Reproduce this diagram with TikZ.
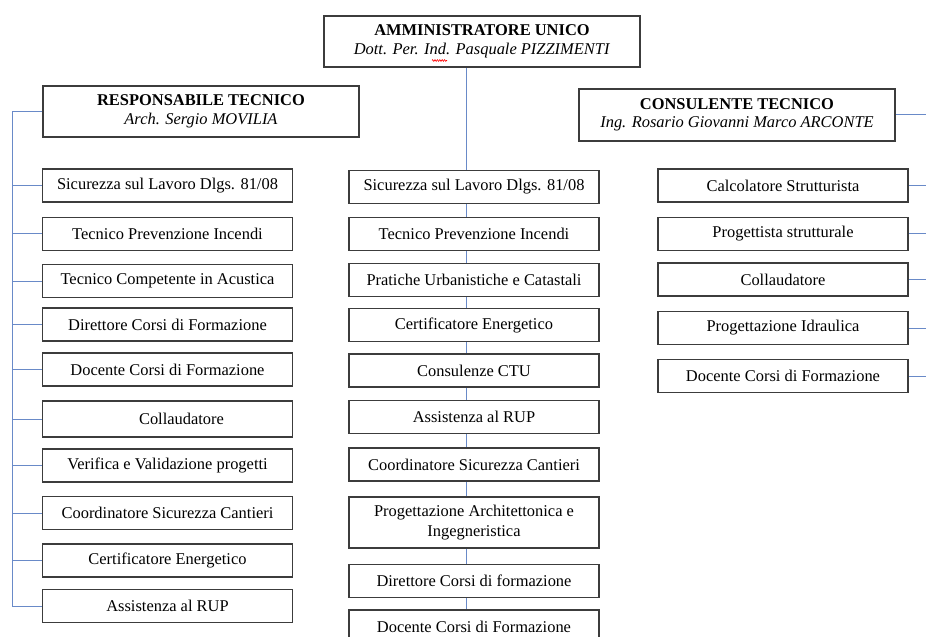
\documentclass[tikz,border=0pt]{standalone}
\usepackage{fontspec}
\setmainfont{Liberation Serif}
\usetikzlibrary{backgrounds,decorations.pathmorphing}
\definecolor{boxgray}{RGB}{60,60,60}
\definecolor{linkblue}{RGB}{105,138,200}
\begin{document}
\begin{tikzpicture}[x=1bp,y=-1bp,
  box/.style={draw=boxgray, line width=1.1bp, fill=white, minimum width=250bp, minimum height=33bp, inner sep=0pt, align=center, font=\fontsize{16.5}{20}\selectfont},
  head/.style={box, minimum width=316bp, minimum height=51bp, font=\fontsize{16.5}{18.5}\selectfont},
  link/.style={draw=linkblue, line width=1bp},
  squig/.style={draw=red, line width=0.6bp, decorate, decoration={zigzag, amplitude=0.9bp, segment length=2.4bp}}]
\useasboundingbox (0,0) rectangle (926,637);
\coordinate (lx) at (12,0);
\coordinate (mx) at (466,0);
\coordinate (rx) at (926,0);
% heads
\node[head] (top) at (482,41.5) {\textbf{AMMINISTRATORE UNICO}\\\textit{Dott. Per. Ind. Pasquale PIZZIMENTI}};
\node[head] (resp) at (201,111.5) {\textbf{RESPONSABILE TECNICO}\\\textit{Arch. Sergio MOVILIA}};
\node[head, minimum height=52bp] (cons) at (737,115) {\textbf{CONSULENTE TECNICO}\\\textit{Ing. Rosario Giovanni Marco ARCONTE}};
\coordinate (sqa) at ([xshift=-50bp,yshift=-19bp]top.center);
\coordinate (sqb) at ([xshift=-35bp,yshift=-19bp]top.center);
\draw[squig] (sqa) -- (sqb);
% left column
\node[box] (l1) at (167.5,185.5) {Sicurezza sul Lavoro Dlgs. 81/08};
\node[box] (l2) at (167.5,234) {Tecnico Prevenzione Incendi};
\node[box] (l3) at (167.5,281) {Tecnico Competente in Acustica};
\node[box] (l4) at (167.5,324.5) {Direttore Corsi di Formazione};
\node[box] (l5) at (167.5,369.5) {Docente Corsi di Formazione};
\node[box, minimum height=36bp] (l6) at (167.5,419) {\hspace*{28bp}Collaudatore};
\node[box] (l7) at (167.5,465.5) {Verifica e Validazione progetti};
\node[box] (l8) at (167.5,513) {Coordinatore Sicurezza Cantieri};
\node[box] (l9) at (167.5,560.5) {Certificatore Energetico};
\node[box] (l10) at (167.5,606) {Assistenza al RUP};
% middle column
\node[box] (m1) at (474,187) {Sicurezza sul Lavoro Dlgs. 81/08};
\node[box] (m2) at (474,234) {Tecnico Prevenzione Incendi};
\node[box] (m3) at (474,280) {Pratiche Urbanistiche e Catastali};
\node[box] (m4) at (474,325) {Certificatore Energetico};
\node[box] (m5) at (474,370.5) {Consulenze CTU};
\node[box] (m6) at (474,417) {Assistenza al RUP};
\node[box] (m7) at (474,464.5) {Coordinatore Sicurezza Cantieri};
\node[box, minimum height=51bp] (m8) at (474,522.5) {Progettazione Architettonica e\\Ingegneristica};
\node[box] (m9) at (474,581) {Direttore Corsi di formazione};
\node[box] (m10) at (474,626.5) {Docente Corsi di Formazione};
% right column
\node[box] (r1) at (783,185.5) {Calcolatore Strutturista};
\node[box] (r2) at (783,234) {Progettista strutturale};
\node[box] (r3) at (783,279.5) {Collaudatore};
\node[box] (r4) at (783,328) {Progettazione Idraulica};
\node[box] (r5) at (783,376) {Docente Corsi di Formazione};
% connectors
\begin{pgfonlayer}{background}
\draw[link] (top.south -| mx) -- (m10.north -| mx);
\draw[link] (resp.west) -- (resp.west -| lx) -- (l10.west -| lx) -- (l10.west);
\foreach \n in {l1,l2,l3,l4,l5,l6,l7,l8,l9} {\draw[link] (\n.west) -- (\n.west -| lx);}
\foreach \n in {cons,r1,r2,r3,r4,r5} {\draw[link] (\n.east) -- (\n.east -| rx);}
\end{pgfonlayer}
\end{tikzpicture}
\end{document}
